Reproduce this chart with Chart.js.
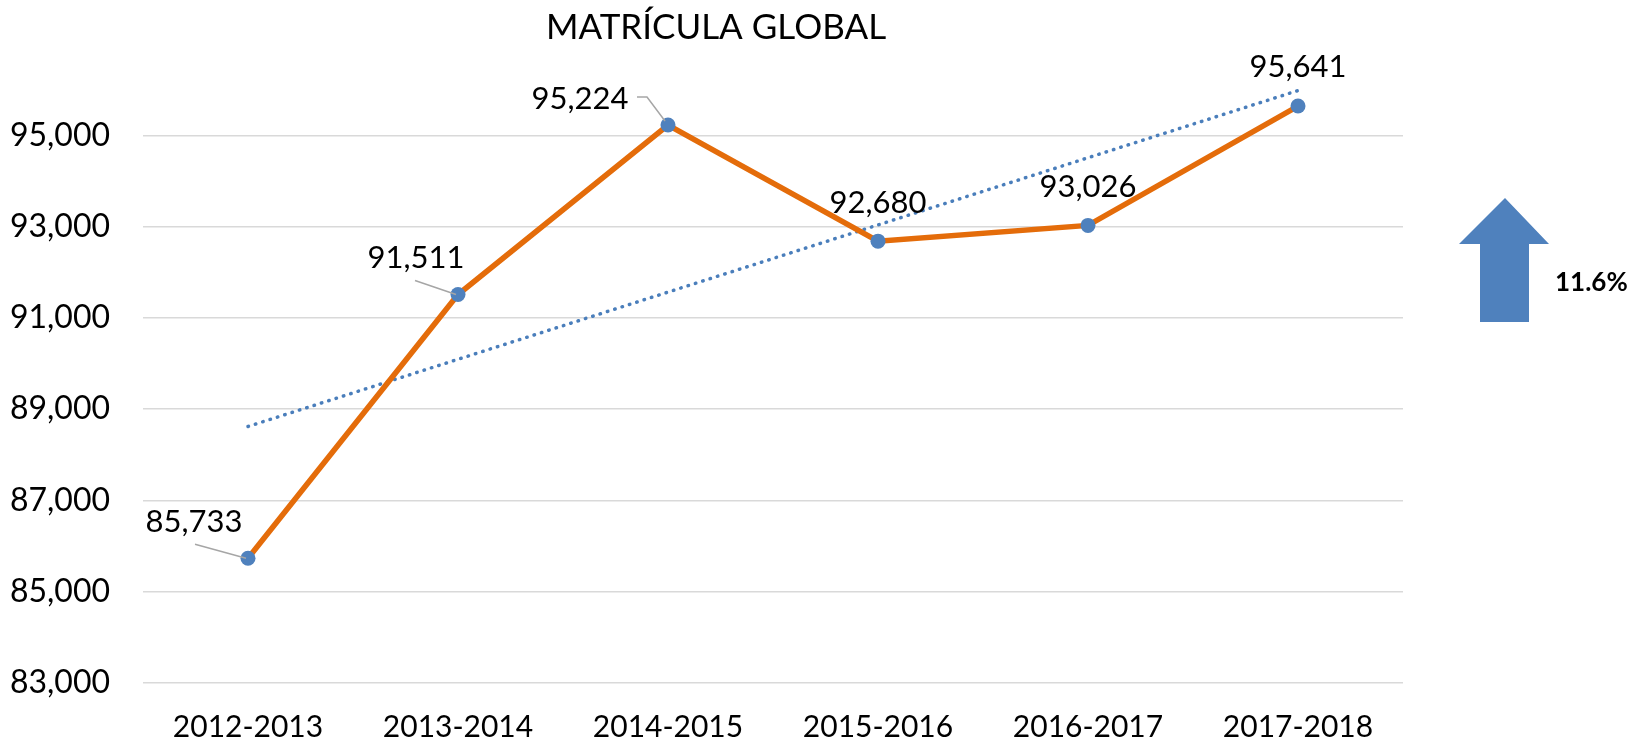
<!DOCTYPE html>
<html>
<head>
<meta charset="utf-8">
<title>Matrícula global</title>
<script src="https://cdn.jsdelivr.net/npm/chart.js@4"></script>
<style>
  body { margin: 0; background: #fff; }
  canvas { display: block; }
</style>
</head>
<body>
<canvas id="matricula" width="1649" height="743"></canvas>
<script>
// datos
var ciclos = ['2012-2013', '2013-2014', '2014-2015', '2015-2016', '2016-2017', '2017-2018'];
var matricula = [85733, 91511, 95224, 92680, 93026, 95641];
var tendencia = [88620, null, null, null, null, 95980];
var ejeY = [83000, 85000, 87000, 89000, 91000, 93000, 95000, 97000];
var titulo = 'MATRÍCULA GLOBAL';
var crecimiento = '11.6%';

var fuente = 'Lato, "Open Sans", sans-serif';

// posicion de cada etiqueta respecto a su punto, y linea guia opcional
var etiquetas = [
  { dx: -54, dy: -36, guia: [[-53, -14], [-2, 0]] },
  { dx: -42, dy: -37, guia: [[-43, -14], [-2, 0]] },
  { dx: -88, dy: -26, guia: [[-31, -28], [-21, -28], [-3, -4]] },
  { dx: 0, dy: -38 },
  { dx: 0, dy: -38 },
  { dx: 0, dy: -39 }
];

function formato(v) {
  return v.toLocaleString('en-US');
}

var extras = {
  id: 'extras',
  afterDatasetsDraw: function(chart) {
    var ctx = chart.ctx;
    var meta = chart.getDatasetMeta(0);
    ctx.save();
    meta.data.forEach(function(pt, i) {
      var e = etiquetas[i];
      if (e.guia) {
        ctx.strokeStyle = '#A6A6A6';
        ctx.lineWidth = 1.5;
        ctx.beginPath();
        e.guia.forEach(function(p, k) {
          if (k === 0) ctx.moveTo(pt.x + p[0], pt.y + p[1]);
          else ctx.lineTo(pt.x + p[0], pt.y + p[1]);
        });
        ctx.stroke();
      }
      ctx.fillStyle = '#000';
      ctx.font = '31px ' + fuente;
      ctx.textAlign = 'center';
      ctx.textBaseline = 'middle';
      ctx.fillText(formato(matricula[i]), pt.x + e.dx, pt.y + e.dy);
    });
    ctx.restore();
  },
  afterDraw: function(chart) {
    var ctx = chart.ctx;
    var r = chart.chartArea.right;
    ctx.save();
    // titulo
    ctx.fillStyle = '#000';
    ctx.font = '35px ' + fuente;
    ctx.textAlign = 'center';
    ctx.textBaseline = 'middle';
    ctx.fillText(titulo, 716, 28);

    // flecha
    ctx.fillStyle = '#4F81BD';
    ctx.beginPath();
    ctx.moveTo(r + 102, 198);
    ctx.lineTo(r + 146, 244);
    ctx.lineTo(r + 126, 244);
    ctx.lineTo(r + 126, 322);
    ctx.lineTo(r + 77, 322);
    ctx.lineTo(r + 77, 244);
    ctx.lineTo(r + 56, 244);
    ctx.closePath();
    ctx.fill();

    ctx.fillStyle = '#000';
    ctx.font = 'bold 26px ' + fuente;
    ctx.textAlign = 'left';
    ctx.fillText(crecimiento, r + 152, 283);
    ctx.restore();
  }
};

function crearGrafica() {
  var element = document.getElementById('matricula').getContext('2d');

  var chart = new Chart(element, {
    type: 'line',
    data: {
      labels: ciclos,
      datasets: [{
        label: 'Matrícula',
        data: matricula,
        borderColor: '#E46C0A',
        borderWidth: 5.5,
        backgroundColor: '#4F81BD',
        pointBackgroundColor: '#4F81BD',
        pointBorderColor: '#4F81BD',
        pointBorderWidth: 0,
        pointRadius: 7.5,
        tension: 0
      }, {
        label: 'Lineal (Matrícula)',
        data: tendencia,
        spanGaps: true,
        borderColor: '#4A7EBB',
        borderWidth: 3.5,
        borderDash: [0.5, 7.2],
        borderCapStyle: 'round',
        pointRadius: 0,
        tension: 0
      }]
    },
    options: {
      responsive: false,
      animation: false,
      layout: { padding: { top: 44, right: 246, left: 0, bottom: 0 } },
      plugins: {
        legend: { display: false },
        tooltip: { enabled: false }
      },
      scales: {
        x: {
          offset: true,
          afterFit: function(s) { s.height = 60; },
          grid: { display: false, drawTicks: false },
          border: { display: false },
          ticks: { color: '#000', padding: 26, maxRotation: 0, font: { family: fuente, size: 30 } }
        },
        y: {
          min: ejeY[0],
          max: ejeY[ejeY.length - 1],
          afterFit: function(s) {
            s.width = 143;
            s.paddingTop = 0;
            s.paddingBottom = 0;
          },
          afterBuildTicks: function(s) {
            s.ticks = ejeY.map(function(v) { return { value: v }; });
          },
          grid: {
            drawTicks: false,
            lineWidth: 1.5,
            color: function(c) {
              return c.tick && c.tick.value === ejeY[ejeY.length - 1] ? 'rgba(0,0,0,0)' : '#D9D9D9';
            }
          },
          border: { display: false },
          ticks: {
            color: '#000',
            padding: 33,
            font: { family: fuente, size: 32 },
            callback: function(v) {
              return v === ejeY[ejeY.length - 1] ? '' : formato(v);
            }
          }
        }
      }
    },
    plugins: [extras]
  });
}

crearGrafica();
</script>
</body>
</html>
